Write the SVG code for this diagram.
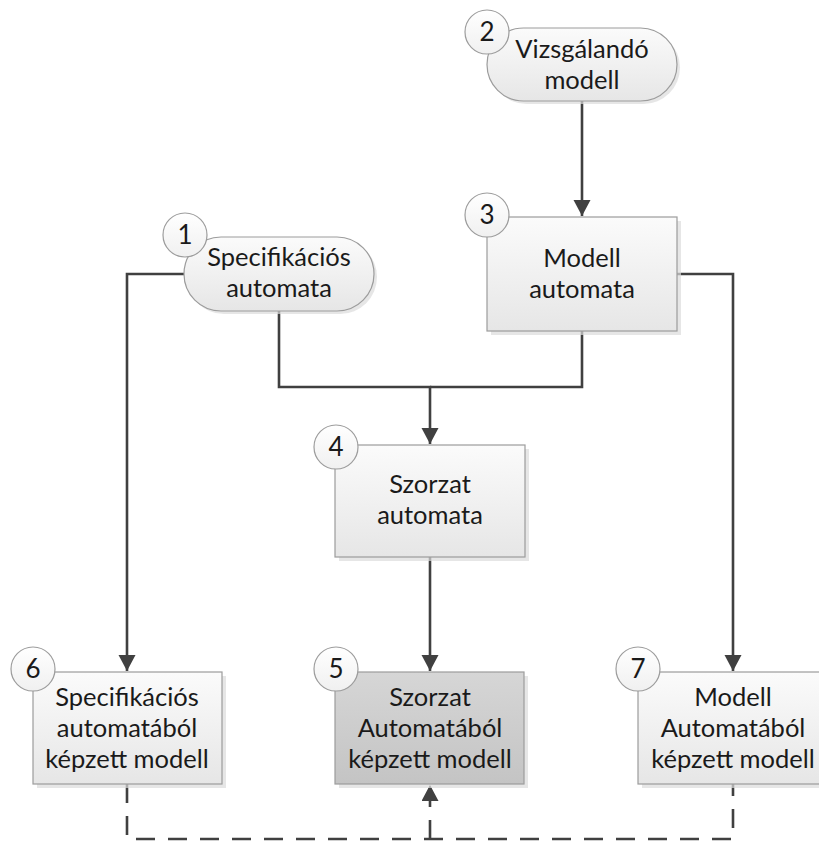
<svg xmlns="http://www.w3.org/2000/svg" width="819" height="841" viewBox="0 0 819 841">
  <defs>
    <linearGradient id="gLight" x1="0" y1="0" x2="0" y2="1">
      <stop offset="0" stop-color="#fbfbfb"/>
      <stop offset="1" stop-color="#e6e6e6"/>
    </linearGradient>
    <linearGradient id="gDark" x1="0" y1="0" x2="0" y2="1">
      <stop offset="0" stop-color="#d6d6d6"/>
      <stop offset="1" stop-color="#c4c4c4"/>
    </linearGradient>
    <linearGradient id="gBadge" x1="0" y1="0" x2="0" y2="1">
      <stop offset="0" stop-color="#ffffff"/>
      <stop offset="1" stop-color="#f0f0f0"/>
    </linearGradient>
    <marker id="arrow" markerUnits="userSpaceOnUse" markerWidth="18" markerHeight="18" refX="16" refY="8.5" orient="auto">
      <path d="M0,0 L16,8.5 L0,17 z" fill="#404040"/>
    </marker>
  </defs>
  <style>
    .shadow { fill: #dcdcdc; opacity: 0.7; }
    .box { fill: url(#gLight); stroke: #9c9c9c; stroke-width: 1.2; }
    .box.dark { fill: url(#gDark); }
    .badge { fill: url(#gBadge); stroke: #9c9c9c; stroke-width: 1.2; }
    .label { font-family: Lato, "Liberation Sans", sans-serif; font-size: 25.5px; fill: #1a1a1a; text-anchor: middle; }
    .num { font-family: Lato, "Liberation Sans", sans-serif; font-size: 26px; fill: #1a1a1a; text-anchor: middle; }
    .wire { fill: none; stroke: #404040; stroke-width: 2.6; }
    .dash { stroke-dasharray: 19 13; }
  </style>

  <!-- connectors -->
  <g id="connectors">
    <path class="wire" d="M582,100 V216" marker-end="url(#arrow)"/>
    <path class="wire" d="M184,274 H127 V671" marker-end="url(#arrow)"/>
    <path class="wire" d="M279,311 V387 H430 V444" marker-end="url(#arrow)"/>
    <path class="wire" d="M582,331 V387 H430"/>
    <path class="wire" d="M677,274 H733 V671" marker-end="url(#arrow)"/>
    <path class="wire" d="M430,557 V671" marker-end="url(#arrow)"/>
    <path class="wire dash" d="M127,784 V839 H733 V784"/>
    <path class="wire dash" d="M430,839 V785" marker-end="url(#arrow)"/>
  </g>

  <!-- 2: Vizsgálandó modell -->
  <g id="node2">
    <rect class="shadow" x="490" y="31" width="190" height="73" rx="36.5"/>
    <rect class="box" x="487" y="28" width="190" height="73" rx="36.5"/>
    <text class="label" x="582" y="58">Vizsgálandó</text>
    <text class="label" x="582" y="89">modell</text>
    <circle class="badge" cx="487" cy="32" r="22"/>
    <text class="num" x="487" y="41">2</text>
  </g>

  <!-- 1: Specifikációs automata -->
  <g id="node1">
    <rect class="shadow" x="187" y="240" width="190" height="74" rx="37"/>
    <rect class="box" x="184" y="237" width="190" height="74" rx="37"/>
    <text class="label" x="279" y="266">Specifikációs</text>
    <text class="label" x="279" y="297">automata</text>
    <circle class="badge" cx="185" cy="235" r="22"/>
    <text class="num" x="185" y="244">1</text>
  </g>

  <!-- 3: Modell automata -->
  <g id="node3">
    <rect class="shadow" x="491" y="221" width="190" height="114"/>
    <rect class="box" x="487" y="217" width="190" height="114"/>
    <text class="label" x="582" y="267">Modell</text>
    <text class="label" x="582" y="298">automata</text>
    <circle class="badge" cx="487" cy="215" r="22"/>
    <text class="num" x="487" y="224">3</text>
  </g>

  <!-- 4: Szorzat automata -->
  <g id="node4">
    <rect class="shadow" x="339" y="449" width="190" height="112"/>
    <rect class="box" x="335" y="445" width="190" height="112"/>
    <text class="label" x="430" y="493">Szorzat</text>
    <text class="label" x="430" y="524">automata</text>
    <circle class="badge" cx="336" cy="447" r="22"/>
    <text class="num" x="336" y="456">4</text>
  </g>

  <!-- 6: Specifikációs automatából képzett modell -->
  <g id="node6">
    <rect class="shadow" x="37" y="676" width="189" height="112"/>
    <rect class="box" x="33" y="672" width="189" height="112"/>
    <text class="label" x="127" y="706">Specifikációs</text>
    <text class="label" x="127" y="737">automatából</text>
    <text class="label" x="127" y="768">képzett modell</text>
    <circle class="badge" cx="33" cy="669" r="22"/>
    <text class="num" x="33" y="678">6</text>
  </g>

  <!-- 5: Szorzat Automatából képzett modell -->
  <g id="node5">
    <rect class="shadow" x="339" y="676" width="189" height="112"/>
    <rect class="box dark" x="335" y="672" width="189" height="112"/>
    <text class="label" x="430" y="706">Szorzat</text>
    <text class="label" x="430" y="737">Automatából</text>
    <text class="label" x="430" y="768">képzett modell</text>
    <circle class="badge" cx="336" cy="669" r="22"/>
    <text class="num" x="336" y="678">5</text>
  </g>

  <!-- 7: Modell Automatából képzett modell -->
  <g id="node7">
    <rect class="shadow" x="642" y="676" width="190" height="112"/>
    <rect class="box" x="638" y="672" width="190" height="112"/>
    <text class="label" x="733" y="706">Modell</text>
    <text class="label" x="733" y="737">Automatából</text>
    <text class="label" x="733" y="768">képzett modell</text>
    <circle class="badge" cx="638" cy="669" r="22"/>
    <text class="num" x="638" y="678">7</text>
  </g>
</svg>
